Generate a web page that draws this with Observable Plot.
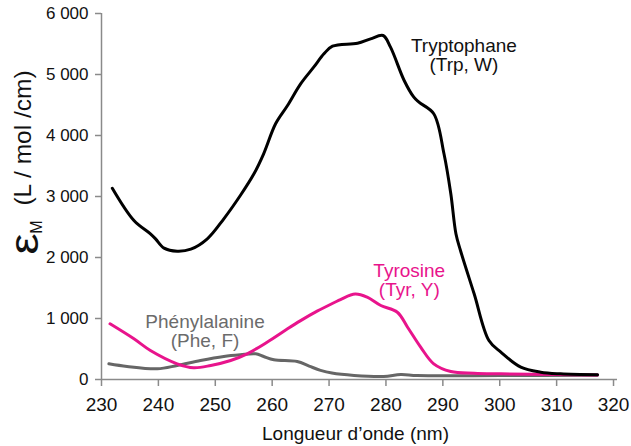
<!DOCTYPE html>
<html><head><meta charset="utf-8">
<script src="https://cdn.jsdelivr.net/npm/d3@7"></script>
<script src="https://cdn.jsdelivr.net/npm/@observablehq/plot@0.6"></script>
<style>
body{margin:0;background:#fff;}
svg{font-family:"Liberation Sans",Arial,Helvetica,sans-serif;}
g[aria-label$="axis tick"]{stroke:#8a8a8a;stroke-width:1.5px;}
g[aria-label$="tick label"]{fill:#111;}
</style></head><body><div id="chart"></div>
<script>
// Wavelength (nm) and molar extinction coefficient values
const trpX = [231.9, 235.7, 238.6, 239.5, 241.0, 243.3, 245.7, 248.6, 251.5, 254.4, 256.8, 258.5, 260.6, 262.7, 265.0, 267.3, 269.1, 270.6, 275.0, 277.3, 279.5, 280.8, 283.2, 284.9, 285.8, 288.4, 290.2, 291.4, 292.3, 293.1, 295.5, 298.1, 300.2, 303.7, 307.2, 310.7, 317.2];
const trpY = [3136, 2607, 2388, 2306, 2153, 2103, 2136, 2306, 2634, 3016, 3372, 3700, 4192, 4492, 4847, 5120, 5339, 5464, 5513, 5585, 5639, 5448, 4902, 4628, 4546, 4356, 3700, 3044, 2389, 2115, 1405, 639, 448, 202, 120, 93, 77];

const tyrX = [231.5, 235.7, 238.6, 243.3, 246.2, 249.2, 252.7, 255.6, 259.1, 262.7, 265.0, 267.9, 269.7, 272.0, 274.6, 276.7, 279.1, 282.0, 283.8, 286.1, 288.4, 291.4, 295.5, 300.2, 310.0, 317.2];
const tyrY = [913, 667, 475, 257, 192, 230, 311, 421, 611, 831, 965, 1120, 1205, 1310, 1400, 1349, 1213, 1103, 857, 530, 257, 131, 103, 93, 80, 75];

const pheX = [231.3, 234.5, 239.8, 243.3, 247.4, 251.5, 254.4, 257.1, 258.5, 260.3, 264.4, 266.5, 268.5, 270.5, 274.4, 279.6, 282.6, 285.5, 300.0, 317.2];
const pheY = [257, 213, 175, 230, 311, 377, 405, 421, 377, 323, 295, 220, 150, 105, 66, 49, 82, 66, 65, 70];

const xTicks = [230, 240, 250, 260, 270, 280, 290, 300, 310, 320];
const yTicks = [0, 1000, 2000, 3000, 4000, 5000, 6000];

const labelNames = ["Tryptophane\n(Trp, W)", "Tyrosine\n(Tyr, Y)", "Phénylalanine\n(Phe, F)"];
const labelX = [293.7, 284.1, 248.2];
const labelY = [5054, 1361, 530];
const labelColors = ["#111111", "#e8148c", "#6b6b6b"];

const xTitle = "Longueur d’onde (nm)";
const yTitleSymbol = "ε";
const yTitleSub = "M";
const yTitleUnit = "(L / mol /cm)";

const toRows = (xs, ys) => xs.map((x, i) => ({x, y: ys[i]}));
const labels = labelNames.map((t, i) => ({text: t, x: labelX[i], y: labelY[i], color: labelColors[i]}));

const fmt = d3.formatLocale({decimal: ",", thousands: " ", grouping: [3], currency: ["", ""]}).format(",d");

const chart = Plot.plot({
  width: 631, height: 446,
  marginLeft: 101, marginRight: 14, marginTop: 13, marginBottom: 67,
  style: {fontFamily: "Liberation Sans, Arial, Helvetica, sans-serif", color: "#111", background: "white"},
  x: {domain: [230, 320.7]},
  y: {domain: [0, 6000]},
  marks: [
    Plot.axisX(xTicks, {tickSize: 7, tickPadding: 11, fontSize: 19, label: null}),
    Plot.axisY(yTicks, {tickSize: 6, tickPadding: 7, fontSize: 17, tickFormat: fmt, label: null}),
    Plot.ruleY([0], {stroke: "#8a8a8a", strokeWidth: 1.5}),
    Plot.ruleX([230], {stroke: "#8a8a8a", strokeWidth: 1.5}),
    Plot.line(toRows(pheX, pheY), {x: "x", y: "y", stroke: "#666666", strokeWidth: 3, curve: "catmull-rom"}),
    Plot.line(toRows(tyrX, tyrY), {x: "x", y: "y", stroke: "#e8148c", strokeWidth: 3, curve: "catmull-rom"}),
    Plot.line(toRows(trpX, trpY), {x: "x", y: "y", stroke: "#000000", strokeWidth: 3, curve: "catmull-rom"}),
    Plot.text(labels, {x: "x", y: "y", text: "text", fill: "color", fontSize: 19, lineAnchor: "bottom", lineHeight: 1}),
    Plot.text([xTitle], {frameAnchor: "bottom", dy: 60.5, dx: -4, lineAnchor: "bottom", fontSize: 19, fill: "#111"})
  ]
});

const svg = d3.select(chart);
const addRot = (txt, x, y, size, sx = 1) => svg.append("text")
  .attr("transform", `translate(${x},${y}) rotate(-90) scale(${sx},1)`)
  .attr("text-anchor", "middle")
  .attr("font-size", size)
  .attr("fill", "#111")
  .text(txt);
addRot(yTitleSymbol, 38, 244, 40, 1.2);
addRot(yTitleSub, 42, 227, 16);
addRot(yTitleUnit, 31, 138, 24.5);

document.getElementById("chart").appendChild(chart);
</script></body></html>
